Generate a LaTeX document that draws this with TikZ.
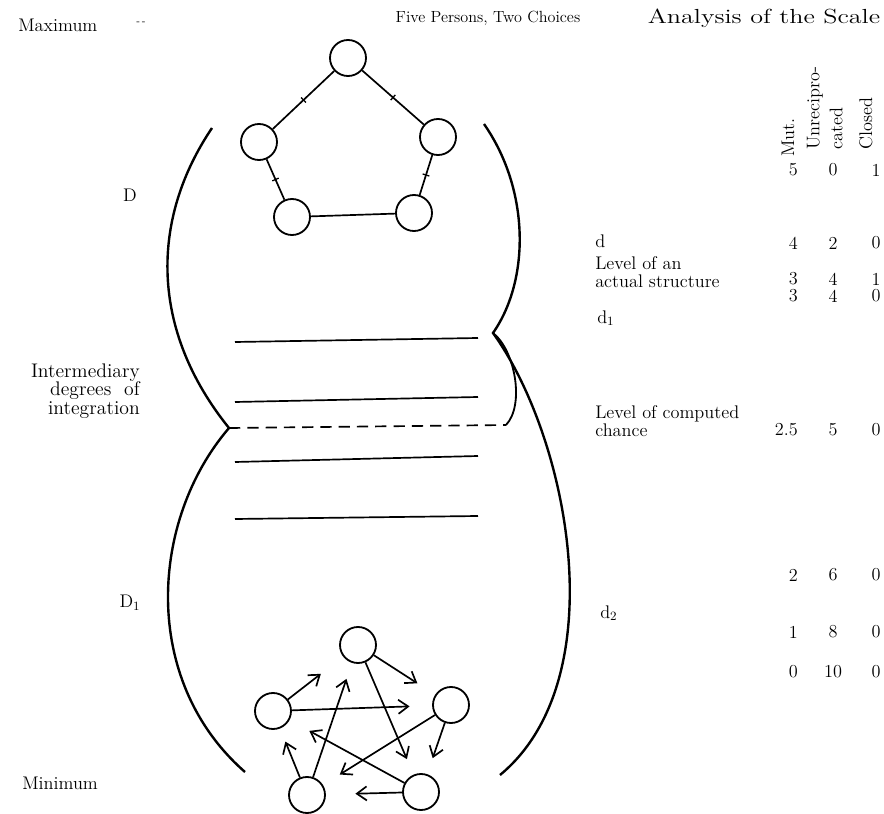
\documentclass[tikz,border=0pt]{standalone}
\usepackage{fontspec}
\usepackage{tikz}
\usetikzlibrary{arrows.meta,calc}
\begin{document}
\begin{tikzpicture}[x=0.025cm,y=-0.025cm,
  person/.style={circle,draw,line width=1.3pt,minimum size=0.9cm,inner sep=0pt},
  mutual/.style={line width=1.2pt},
  tick/.style={draw,line width=0.9pt,minimum width=0pt,minimum height=5pt,inner sep=0pt,sloped},
  choice/.style={line width=1.2pt,-{Straight Barb[length=7pt,width=10pt,line width=1.2pt]}},
  bound/.style={line width=1.7pt},
  level/.style={line width=1.2pt},
  txt/.style={font=\fontsize{13}{12.5}\selectfont,inner sep=0pt},
  num/.style={font=\fontsize{13}{13}\selectfont,inner sep=0pt}]
\useasboundingbox (0,0) rectangle (884,814);
\node[txt,anchor=west] (max) at (18,25) {Maximum};
\node[font=\scriptsize,inner sep=0pt] (maxmark) at (141,23) {-\,-};
\node[font=\fontsize{11.5}{12}\selectfont,inner sep=0pt] (title) at (488,18) {Five Persons, Two Choices};
\node[font=\fontsize{14.5}{15}\selectfont,inner sep=0pt] (scale) at (764,18) {\scalebox{1.28}[1]{Analysis of the Scale}};
\node[txt] (dmax) at (130,195) {D};
\node[txt,anchor=east,align=right,font=\fontsize{14}{13}\selectfont] (inter) at (140,391) {Intermediary\\degrees \ of\\integration};
\node[txt] (dmin) at (130,603) {D$_1$};
\node[txt,anchor=west] (min) at (22,783) {Minimum};
\node[txt,rotate=90,anchor=west] (hmut) at (788,157) {Mut.};
\node[txt,rotate=90,anchor=west] (hunr) at (815,150) {Unrecipro-};
\node[txt,rotate=90,anchor=west] (hcat) at (836,150) {cated};
\node[txt,rotate=90,anchor=west] (hclo) at (866,150) {Closed};
\foreach \r/\y/\a/\b/\c in {1/170/5/0/1,2/243/4/2/0,3/279/3/4/1,4/296/3/4/0,
  5/430/2.5/5/0,6/575/2/6/0,7/632/1/8/0,8/672/0/10/0}{
  \node[num,anchor=east] (mut\r) at (798,\y) {\a};
  \node[num] (unr\r) at (833,\y) {\b};
  \node[num] (clo\r) at (876,\y) {\c};
}
\node[txt,anchor=west] (dd) at (595,241) {d};
\node[txt,anchor=west,align=left] (actual) at (595,272) {Level of an\\actual structure};
\node[txt,anchor=west] (dd1) at (597,318) {d$_1$};
\node[txt,anchor=west,align=left] (chance) at (595,421) {Level of computed\\chance};
\node[txt,anchor=west] (dd2) at (600,613) {d$_2$};
\coordinate (lcusp) at (229,428);
\coordinate (rcusp) at (493,333);
\coordinate (hook) at (506,425);
\draw[bound] (212,128) .. controls (150,220) and (150,330) .. (lcusp)
  .. controls (150,520) and (140,680) .. (245,772);
\draw[bound] (484,124) .. controls (530,190) and (530,280) .. (rcusp)
  .. controls (570,440) and (615,680) .. (500,775);
\draw[bound,line width=1.3pt] (rcusp) .. controls (515,350) and (525,405) .. (hook);
\draw[level,dash pattern=on 8pt off 5pt] (lcusp) -- (hook);
\foreach \ya/\yb in {342/338,402/397,462/456,519/516}
  \draw[level] (235,\ya) -- (478,\yb);
\node[person] (tt) at (348,58) {};
\node[person] (tl) at (259,142) {};
\node[person] (tr) at (438,137) {};
\node[person] (tbl) at (292,217) {};
\node[person] (tbr) at (414,213) {};
\draw[mutual] (tt) -- node[tick]{} (tl);
\draw[mutual] (tt) -- node[tick]{} (tr);
\draw[mutual] (tl) -- node[tick]{} (tbl);
\draw[mutual] (tr) -- node[tick]{} (tbr);
\draw[mutual] (tbl) -- (tbr);
\node[person] (bt) at (358,645) {};
\node[person] (bl) at (273,711) {};
\node[person] (br) at (451,705) {};
\node[person] (bbl) at (307,795) {};
\node[person] (bbr) at (421,792) {};
\foreach \a/\b/\s in {bl/bt/20,bl/br/16,bt/br/15,bt/bbr/12,br/bbr/12,
  br/bbl/14,bbr/bbl/21,bbr/bl/16,bbl/bl/10,bbl/bt/12}
  \draw[choice,shorten >=\s pt] (\a) -- (\b);
\end{tikzpicture}
\end{document}
